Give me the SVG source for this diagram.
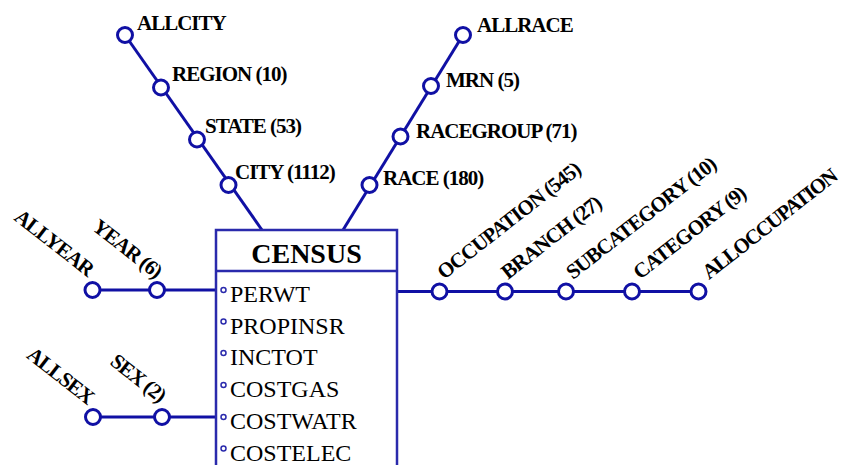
<svg xmlns="http://www.w3.org/2000/svg" width="843" height="465" viewBox="0 0 843 465">
  <style>
    .edge { stroke: #1010a4; stroke-width: 3; fill: none; }
    .lvl { fill: #ffffff; stroke: #1010a4; stroke-width: 3; }
    .lbl { font-family: "Liberation Serif", "Times New Roman", serif; font-weight: bold; font-size: 21px; letter-spacing: -1px; fill: #000000; }
    .box { fill: #ffffff; stroke: #2a2aac; stroke-width: 2.5; }
    .title { font-family: "Liberation Serif", "Times New Roman", serif; font-weight: bold; font-size: 28px; fill: #000000; text-anchor: middle; }
    .attr { font-family: "Liberation Serif", "Times New Roman", serif; font-size: 24px; fill: #000000; }
    .dot { fill: #ffffff; stroke: #2a2aac; stroke-width: 1.5; }
  </style>

  <!-- dimension paths -->
  <g id="connectors">
    <line class="edge" x1="125" y1="35" x2="262" y2="230"/>
    <line class="edge" x1="463" y1="35" x2="343" y2="230"/>
    <line class="edge" x1="92" y1="290" x2="216" y2="290"/>
    <line class="edge" x1="93" y1="417" x2="216" y2="417"/>
    <line class="edge" x1="397" y1="291.5" x2="698" y2="291.5"/>
  </g>

  <!-- fact table -->
  <g id="census">
    <rect class="box" x="216" y="230" width="181" height="260"/>
    <line class="box" x1="216" y1="271" x2="397" y2="271"/>
    <text class="title" x="306.5" y="263">CENSUS</text>
    <circle class="dot" cx="223.5" cy="290" r="2.5"/>
    <text class="attr" x="230" y="302">PERWT</text>
    <circle class="dot" cx="223.5" cy="321.5" r="2.5"/>
    <text class="attr" x="230" y="333.5">PROPINSR</text>
    <circle class="dot" cx="223.5" cy="353" r="2.5"/>
    <text class="attr" x="230" y="365">INCTOT</text>
    <circle class="dot" cx="223.5" cy="385" r="2.5"/>
    <text class="attr" x="230" y="397">COSTGAS</text>
    <circle class="dot" cx="223.5" cy="417" r="2.5"/>
    <text class="attr" x="230" y="429">COSTWATR</text>
    <circle class="dot" cx="223.5" cy="448.5" r="2.5"/>
    <text class="attr" x="230" y="460.5">COSTELEC</text>
  </g>

  <!-- city hierarchy -->
  <g id="allcity"><circle class="lvl" cx="125" cy="35" r="7.5"/><text class="lbl" x="137" y="29.5">ALLCITY</text></g>
  <g id="region"><circle class="lvl" cx="161" cy="87.5" r="7.5"/><text class="lbl" x="172" y="81">REGION (10)</text></g>
  <g id="state"><circle class="lvl" cx="197" cy="139.5" r="7.5"/><text class="lbl" x="205" y="133">STATE (53)</text></g>
  <g id="city"><circle class="lvl" cx="228.5" cy="185" r="7.5"/><text class="lbl" x="235" y="178.5">CITY (1112)</text></g>

  <!-- race hierarchy -->
  <g id="allrace"><circle class="lvl" cx="463" cy="35" r="7.5"/><text class="lbl" x="477" y="31.5">ALLRACE</text></g>
  <g id="mrn"><circle class="lvl" cx="431" cy="86" r="7.5"/><text class="lbl" x="446" y="87">MRN (5)</text></g>
  <g id="racegroup"><circle class="lvl" cx="400.5" cy="136.5" r="7.5"/><text class="lbl" x="416" y="138">RACEGROUP (71)</text></g>
  <g id="race"><circle class="lvl" cx="369.5" cy="185" r="7.5"/><text class="lbl" x="383" y="185">RACE (180)</text></g>

  <!-- year hierarchy -->
  <g id="allyear"><circle class="lvl" cx="92.5" cy="290" r="7.5"/><text class="lbl" text-anchor="end" transform="translate(87 277) rotate(38)">ALLYEAR</text></g>
  <g id="year"><circle class="lvl" cx="157" cy="290" r="7.5"/><text class="lbl" text-anchor="end" transform="translate(155 279) rotate(38)">YEAR (6)</text></g>

  <!-- sex hierarchy -->
  <g id="allsex"><circle class="lvl" cx="93" cy="417" r="7.5"/><text class="lbl" text-anchor="end" transform="translate(87 405) rotate(38)">ALLSEX</text></g>
  <g id="sex"><circle class="lvl" cx="162" cy="417" r="7.5"/><text class="lbl" text-anchor="end" transform="translate(159 403) rotate(38)">SEX (2)</text></g>

  <!-- occupation hierarchy -->
  <g id="occupation"><circle class="lvl" cx="439.5" cy="291.5" r="7.5"/><text class="lbl" transform="translate(444 280) rotate(-38)">OCCUPATION (545)</text></g>
  <g id="branch"><circle class="lvl" cx="505" cy="291.5" r="7.5"/><text class="lbl" transform="translate(508 280) rotate(-38)">BRANCH (27)</text></g>
  <g id="subcategory"><circle class="lvl" cx="566" cy="291.5" r="7.5"/><text class="lbl" transform="translate(573 280) rotate(-38)">SUBCATEGORY (10)</text></g>
  <g id="category"><circle class="lvl" cx="632" cy="291.5" r="7.5"/><text class="lbl" transform="translate(640 280) rotate(-38)">CATEGORY (9)</text></g>
  <g id="alloccupation"><circle class="lvl" cx="698.5" cy="291.5" r="7.5"/><text class="lbl" style="letter-spacing:-1.5px" transform="translate(709 280) rotate(-38)">ALLOCCUPATION</text></g>
</svg>
